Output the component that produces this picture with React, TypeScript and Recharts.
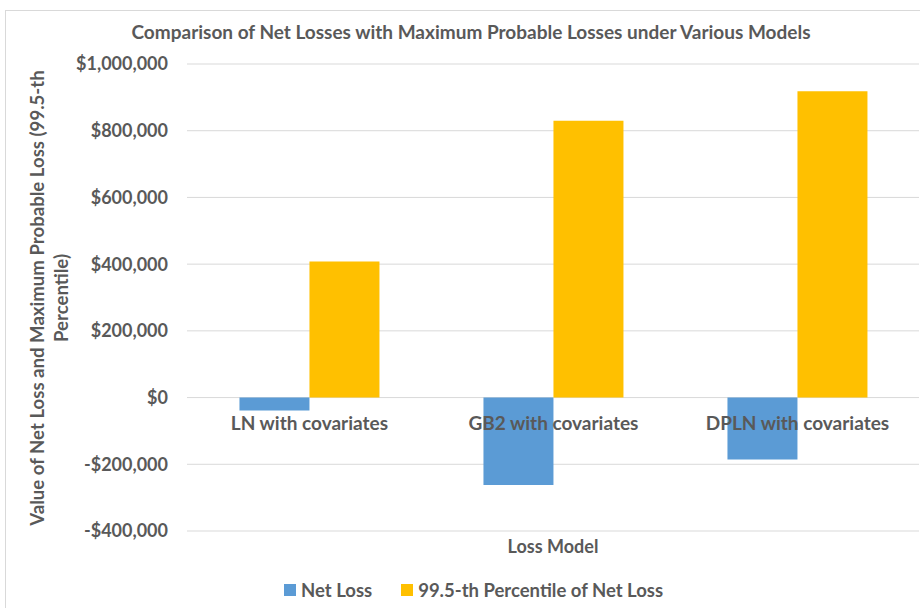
import { Bar, BarChart, CartesianGrid, LabelList, XAxis, YAxis } from "recharts"

const categories = ["LN with covariates", "GB2 with covariates", "DPLN with covariates"]
const netLoss = [-39000, -262000, -186000]
const percentile995 = [408000, 830000, 918000]
const yTicks = [-400000, -200000, 0, 200000, 400000, 600000, 800000, 1000000]

const seriesNames = ["Net Loss", "99.5-th Percentile of Net Loss"]
const seriesColors = ["#5B9BD5", "#FFC000"]

const chartTitle = "Comparison of Net Losses with Maximum Probable Losses under Various Models"
const yTitleLines = ["Value of Net Loss and Maximum Probable Loss (99.5-th", "Percentile)"]
const xTitle = "Loss Model"

const FONT = "Lato, 'Open Sans', sans-serif"
const TEXT = "#595959"

const data = categories.map((name, i) => ({
  name,
  netLoss: netLoss[i],
  p995: percentile995[i],
}))

const money = (v: number) =>
  v < 0 ? `-$${Math.abs(v).toLocaleString("en-US")}` : `$${v.toLocaleString("en-US")}`

// category names sit just under the zero line, like Excel does
function CategoryLabel(props: any) {
  const x = Number(props.x)
  const zero = Number(props.y) + Number(props.height)
  return (
    <text x={x} y={zero + 32} textAnchor="middle" fill={TEXT} fontSize={19} fontWeight={700} fontFamily={FONT}>
      {props.value}
    </text>
  )
}

export default function App() {
  return (
    <div style={{ position: "absolute", left: 0, top: 0, width: 920, height: 608, overflow: "hidden", background: "#fff" }}>
      <div style={{ position: "absolute", left: 5, top: 10, width: 960, height: 640, border: "1px solid #d9d9d9" }} />
      <div style={{ position: "absolute", left: 0, top: 0 }}>
        <BarChart
          width={920}
          height={608}
          data={data}
          margin={{ top: 64, right: 1, bottom: 77, left: 0 }}
          barCategoryGap="21.5%"
          barGap={0}
        >
          <CartesianGrid vertical={false} stroke="#d9d9d9" />
          <XAxis dataKey="name" hide />
          <YAxis
            width={187}
            domain={[-400000, 1000000]}
            ticks={yTicks}
            tickFormatter={money}
            axisLine={false}
            tickLine={false}
            tickSize={0}
            tickMargin={19}
            tick={{ fill: TEXT, fontSize: 18, fontWeight: 700, fontFamily: FONT }}
          />
          <Bar dataKey="netLoss" name={seriesNames[0]} fill={seriesColors[0]} isAnimationActive={false} />
          <Bar dataKey="p995" name={seriesNames[1]} fill={seriesColors[1]} isAnimationActive={false}>
            <LabelList dataKey="name" content={CategoryLabel} />
          </Bar>
        </BarChart>
      </div>
      <svg width={920} height={608} style={{ position: "absolute", left: 0, top: 0, pointerEvents: "none" }}>
        <text x={471} y={39} textAnchor="middle" fill={TEXT} fontSize={19} fontWeight={700} fontFamily={FONT}>
          {chartTitle}
        </text>
        <text x={553} y={553} textAnchor="middle" fill={TEXT} fontSize={18} fontWeight={700} fontFamily={FONT}>
          {xTitle}
        </text>
        {yTitleLines.map((line, i) => (
          <text
            key={line}
            x={0}
            y={0}
            transform={`translate(${44 + i * 24}, 298) rotate(-90)`}
            textAnchor="middle"
            fill={TEXT}
            fontSize={18.6}
            fontWeight={700}
            fontFamily={FONT}
          >
            {line}
          </text>
        ))}
      </svg>
      <div
        style={{
          position: "absolute",
          left: 284,
          top: 579,
          display: "flex",
          alignItems: "center",
          fontFamily: FONT,
          fontSize: 18.5,
          fontWeight: 700,
          color: TEXT,
        }}
      >
        {seriesNames.map((name, i) => (
          <div key={name} style={{ display: "flex", alignItems: "center", marginRight: 29 }}>
            <span style={{ width: 12, height: 12, background: seriesColors[i], marginRight: 5 }} />
            <span>{name}</span>
          </div>
        ))}
      </div>
    </div>
  )
}
